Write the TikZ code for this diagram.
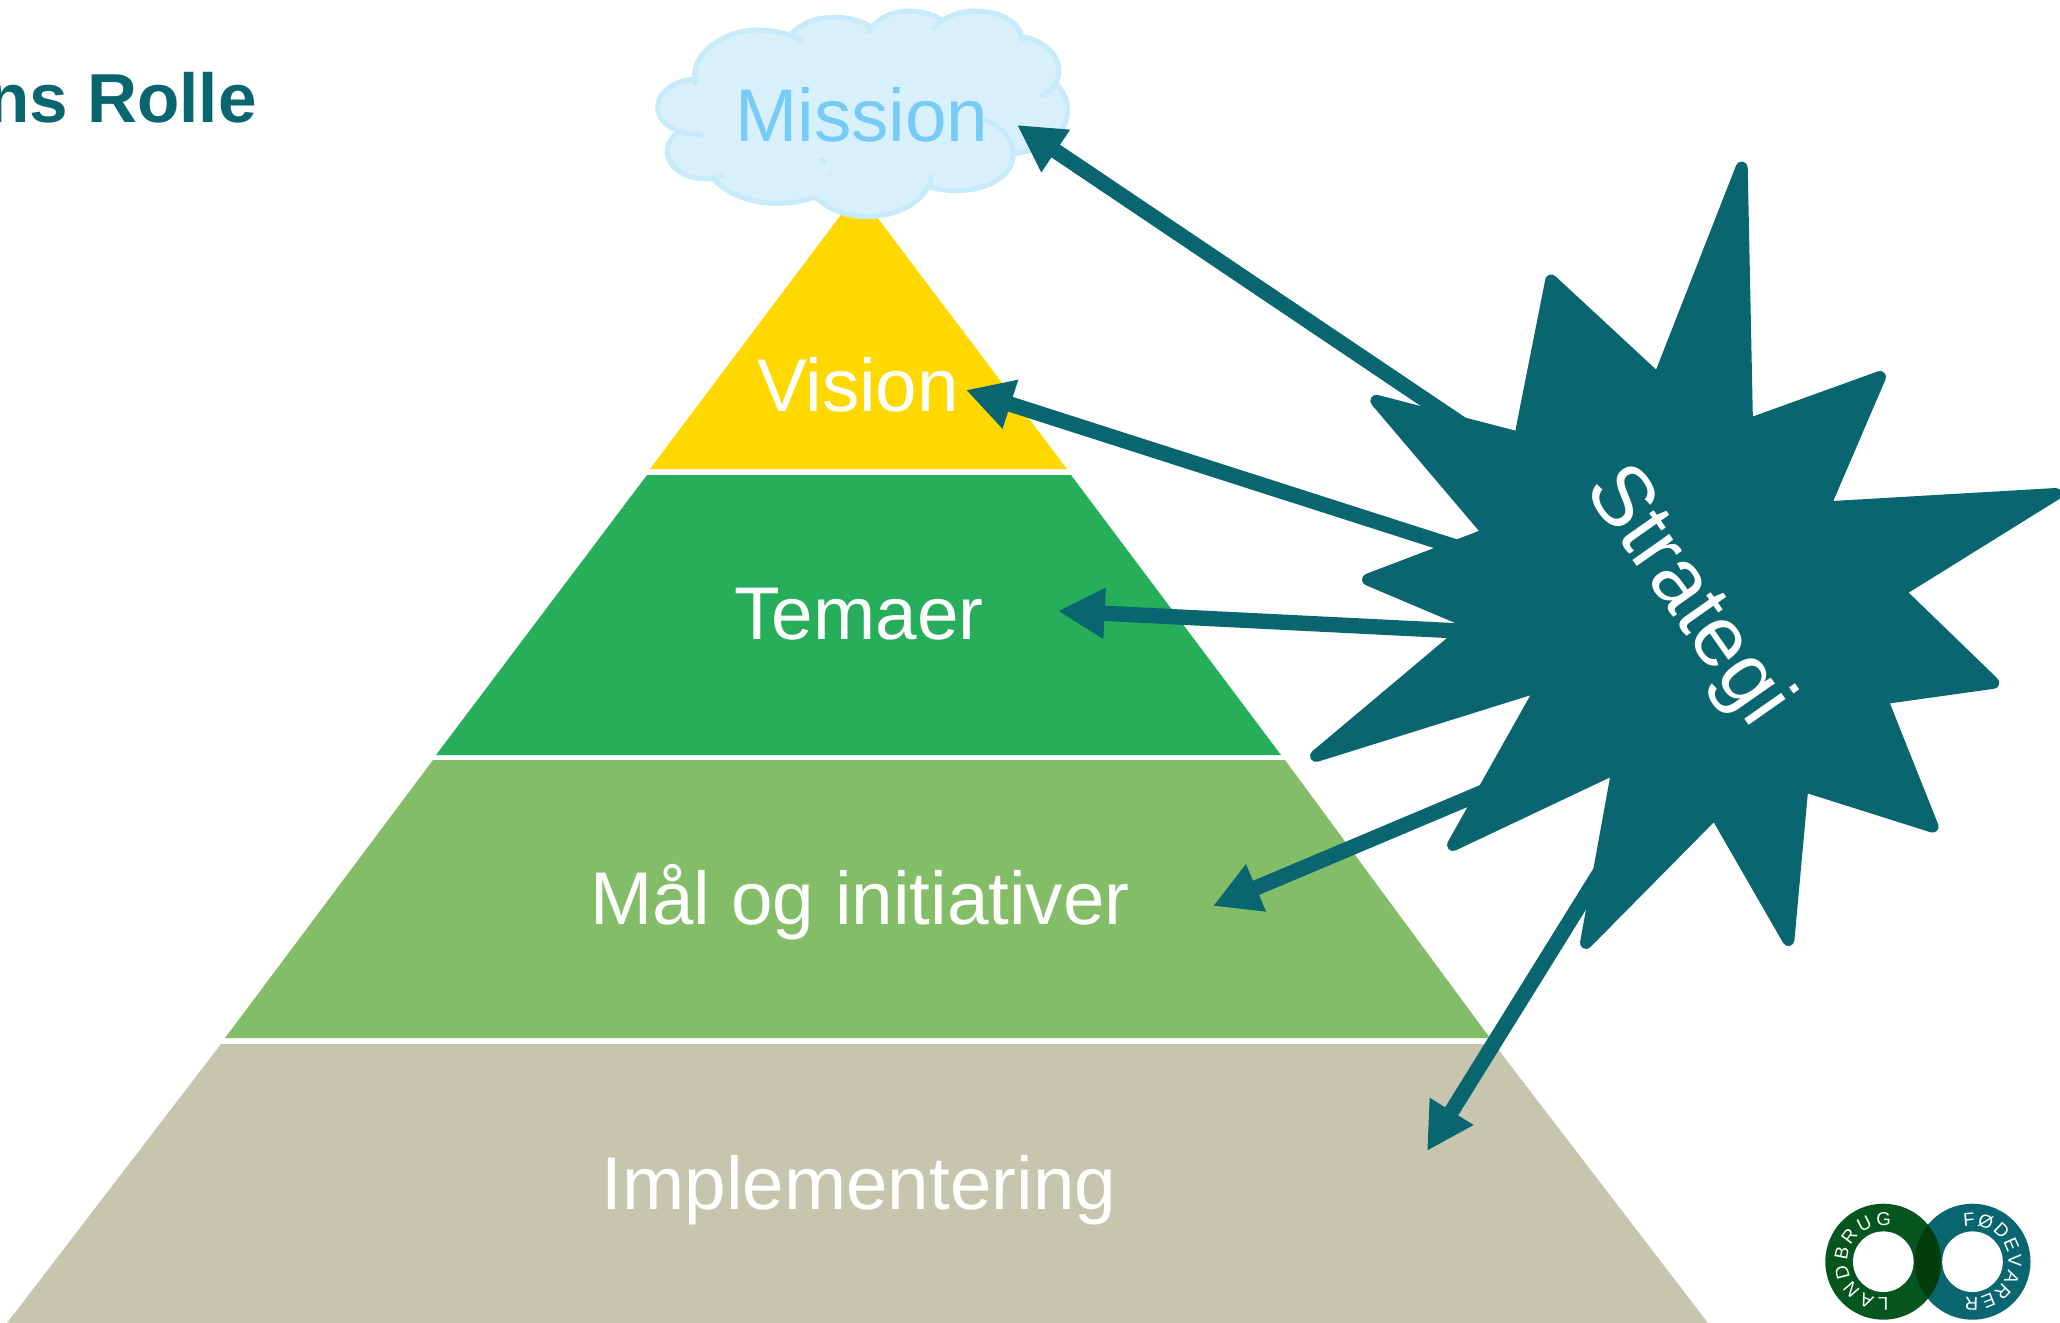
\documentclass[tikz,border=0pt]{standalone}
\usepackage{fontspec}
\setmainfont{Liberation Sans}
\usepackage{xcolor}
\usetikzlibrary{arrows, arrows.meta}
\usetikzlibrary{decorations.text}
\definecolor{tealstrat}{HTML}{09656F}
\definecolor{bandyellow}{HTML}{FFD800}
\definecolor{bandgreen}{HTML}{27AE5B}
\definecolor{bandlight}{HTML}{84BD68}
\definecolor{bandkhaki}{HTML}{C6C6AE}
\definecolor{cloudfill}{HTML}{D8F0FC}
\definecolor{cloudline}{HTML}{C8EBFB}
\definecolor{cloudtext}{HTML}{76CCF6}
\definecolor{ringgreen}{HTML}{04561E}
\definecolor{ringdark}{HTML}{023D0C}
\tikzset{
	bandtext/.style={anchor=base, text=white, font=\fontsize{56}{60}\selectfont},
	stratarrow/.style={draw=tealstrat, line width=11.5pt, -{Triangle[length=35pt,width=36pt]}},
	cloudedge/.style={draw=cloudline, line width=3.75pt},
	ringtext/.style={decorate, decoration={text along path, text align={fit to path}, text color=white, text={#1}}},
}

\begin{document}
\begin{tikzpicture}[x=0.75pt,y=0.75pt,yscale=-1,xscale=1]
	\useasboundingbox (0,0) rectangle (2060,1323);
	
	%Shape: Polygon [bands]
	\fill[bandyellow] (858,192) -- (650,469) -- (1067,469) -- cycle ;
	\fill[bandgreen] (647,475) -- (1071,475) -- (1281,755) -- (436,755) -- cycle ;
	\fill[bandlight] (433,760) -- (1285,760) -- (1490,1038) -- (225,1038) -- cycle ;
	\fill[bandkhaki] (221,1044) -- (1494,1044) -- (1708,1323) -- (7,1323) -- cycle ;
	
	%Shape: Cloud
	\begin{scope}[shift={(620,0)},scale=0.3333]
		\fill[cloudfill] (228,237) .. controls (195,170) and (310,90) .. (410,90) .. controls (450,90) and (490,95) .. (515,100) .. controls (555,60) and (600,52) .. (645,52) .. controls (690,52) and (730,65) .. (752,78) .. controls (780,45) and (820,33) .. (862,33) .. controls (900,33) and (930,42) .. (955,58) .. controls (990,40) and (1025,33) .. (1065,33) .. controls (1140,33) and (1190,65) .. (1207,110) .. controls (1270,120) and (1317,165) .. (1317,212) .. controls (1317,225) and (1313,238) .. (1308,250) .. controls (1335,280) and (1345,310) .. (1343,335) .. controls (1342,400) and (1270,450) .. (1180,462) .. controls (1180,530) and (1100,572) .. (1010,572) .. controls (980,572) and (950,567) .. (930,562) .. controls (900,620) and (840,650) .. (740,650) .. controls (675,650) and (620,625) .. (585,590) .. controls (530,612) and (490,610) .. (465,610) .. controls (390,610) and (320,580) .. (282,538) .. controls (275,537) and (268,537) .. (260,537) .. controls (190,537) and (142,500) .. (142,452) .. controls (142,430) and (155,410) .. (175,397) .. controls (135,385) and (113,355) .. (113,322) .. controls (113,275) and (165,240) .. (228,237) -- cycle ;
		\path[cloudedge] (230,255) .. controls (195,170) and (310,90) .. (410,90) .. controls (470,90) and (520,105) .. (550,125) ;
		\path[cloudedge] (515,100) .. controls (555,60) and (600,52) .. (645,52) .. controls (690,52) and (730,65) .. (752,80) ;
		\path[cloudedge] (745,100) .. controls (765,55) and (820,33) .. (862,33) .. controls (900,33) and (940,42) .. (962,58) ;
		\path[cloudedge] (940,88) .. controls (975,45) and (1025,33) .. (1065,33) .. controls (1140,33) and (1205,65) .. (1207,125) ;
		\path[cloudedge] (1207,110) .. controls (1270,120) and (1317,165) .. (1317,212) .. controls (1317,245) and (1295,270) .. (1262,290) ;
		\path[cloudedge] (1308,250) .. controls (1335,280) and (1345,310) .. (1343,335) .. controls (1342,400) and (1270,450) .. (1180,462) ;
		\path[cloudedge] (1090,360) .. controls (1140,375) and (1180,415) .. (1180,462) .. controls (1180,530) and (1100,572) .. (1010,572) .. controls (980,572) and (950,567) .. (930,562) ;
		\path[cloudedge] (935,525) .. controls (925,600) and (840,650) .. (740,650) .. controls (675,650) and (620,625) .. (585,590) ;
		\path[cloudedge] (585,590) .. controls (530,612) and (490,610) .. (465,610) .. controls (390,610) and (320,580) .. (282,538) ;
		\path[cloudedge] (312,527) .. controls (295,533) and (280,537) .. (260,537) .. controls (190,537) and (142,500) .. (142,452) .. controls (142,430) and (155,410) .. (175,397) ;
		\path[cloudedge] (248,403) .. controls (170,405) and (113,370) .. (113,322) .. controls (113,275) and (165,240) .. (228,237) ;
		\fill[cloudline] (608,483) ellipse (12 and 10) ;
		\fill[cloudline] (630,522) ellipse (9 and 3) ;
	\end{scope}
	
	%Text labels
	\node[anchor=base east, inner sep=0pt, text=tealstrat, font=\fontsize{52}{56}\selectfont\bfseries] (rolle) at (257,123) {ns Rolle};
	\node[bandtext, text=cloudtext] (mission) at (862,142) {Mission};
	\node[bandtext] (vision) at (858,411) {Vision};
	\node[bandtext] (temaer) at (859,639) {Temaer};
	\node[bandtext] (maal) at (860,924) {Mål og initiativer};
	\node[bandtext] (impl) at (859,1209) {Implementering};
	
	%Arrow ends
	\coordinate (fromMission) at (1485,440);
	\coordinate (toMission) at (1017,125);
	\coordinate (fromVision) at (1490,558);
	\coordinate (toVision) at (966,390);
	\coordinate (fromTemaer) at (1500,633);
	\coordinate (toTemaer) at (1058,611);
	\coordinate (fromMaal) at (1500,785);
	\coordinate (toMaal) at (1213,906);
	\coordinate (fromImpl) at (1640,808);
	\coordinate (toImpl) at (1427,1151);
	
	\draw[stratarrow] (fromMission) -- (toMission) ;
	\draw[stratarrow] (fromVision) -- (toVision) ;
	\draw[stratarrow] (fromTemaer) -- (toTemaer) ;
	\draw[stratarrow] (fromMaal) -- (toMaal) ;
	\draw[stratarrow] (fromImpl) -- (toImpl) ;
	
	%Shape: Star
	\filldraw[fill=tealstrat, draw=tealstrat, line width=9pt, line join=round] (1741.7,167.5) -- (1747,425) -- (1880,377) -- (1824,507.5) -- (2056,494) -- (1899,591.6) -- (1993.3,682.8) -- (1881.5,698.5) -- (1932.6,826.6) -- (1802.5,785.5) -- (1788.4,940) -- (1715,812.5) -- (1586,943) -- (1618,767) -- (1453,845) -- (1543,685) -- (1316,756) -- (1473,624) -- (1368,579.6) -- (1489,533.5) -- (1376.3,400.8) -- (1520,438) -- (1551.2,280.5) -- (1658.5,380) -- cycle ;
	\node[text=white, rotate=-55, font=\fontsize{64}{68}\selectfont] (strategi) at (1686,597) {Strategi};
	
	%Logo
	\fill[ringgreen] (1883.3,1261.7) circle (58) ;
	\fill[tealstrat] (1972.5,1261.7) circle (58) ;
	\begin{scope}
		\clip (1883.3,1261.7) circle (58) ;
		\fill[ringdark] (1972.5,1261.7) circle (58) ;
	\end{scope}
	\fill[white] (1883.3,1261.7) circle (30.3) ;
	\fill[white] (1972.5,1261.7) circle (30.3) ;
	\path[ringtext={|\fontsize{14}{16}\selectfont|LANDBRUG}] (1883.3,1261.7) ++(82:36) arc[start angle=82, end angle=282, radius=36] ;
	\path[ringtext={|\fontsize{14}{16}\selectfont|FØDEVARER}] (1972.5,1261.7) ++(256:36) arc[start angle=256, end angle=462, radius=36] ;
\end{tikzpicture}
\end{document}
